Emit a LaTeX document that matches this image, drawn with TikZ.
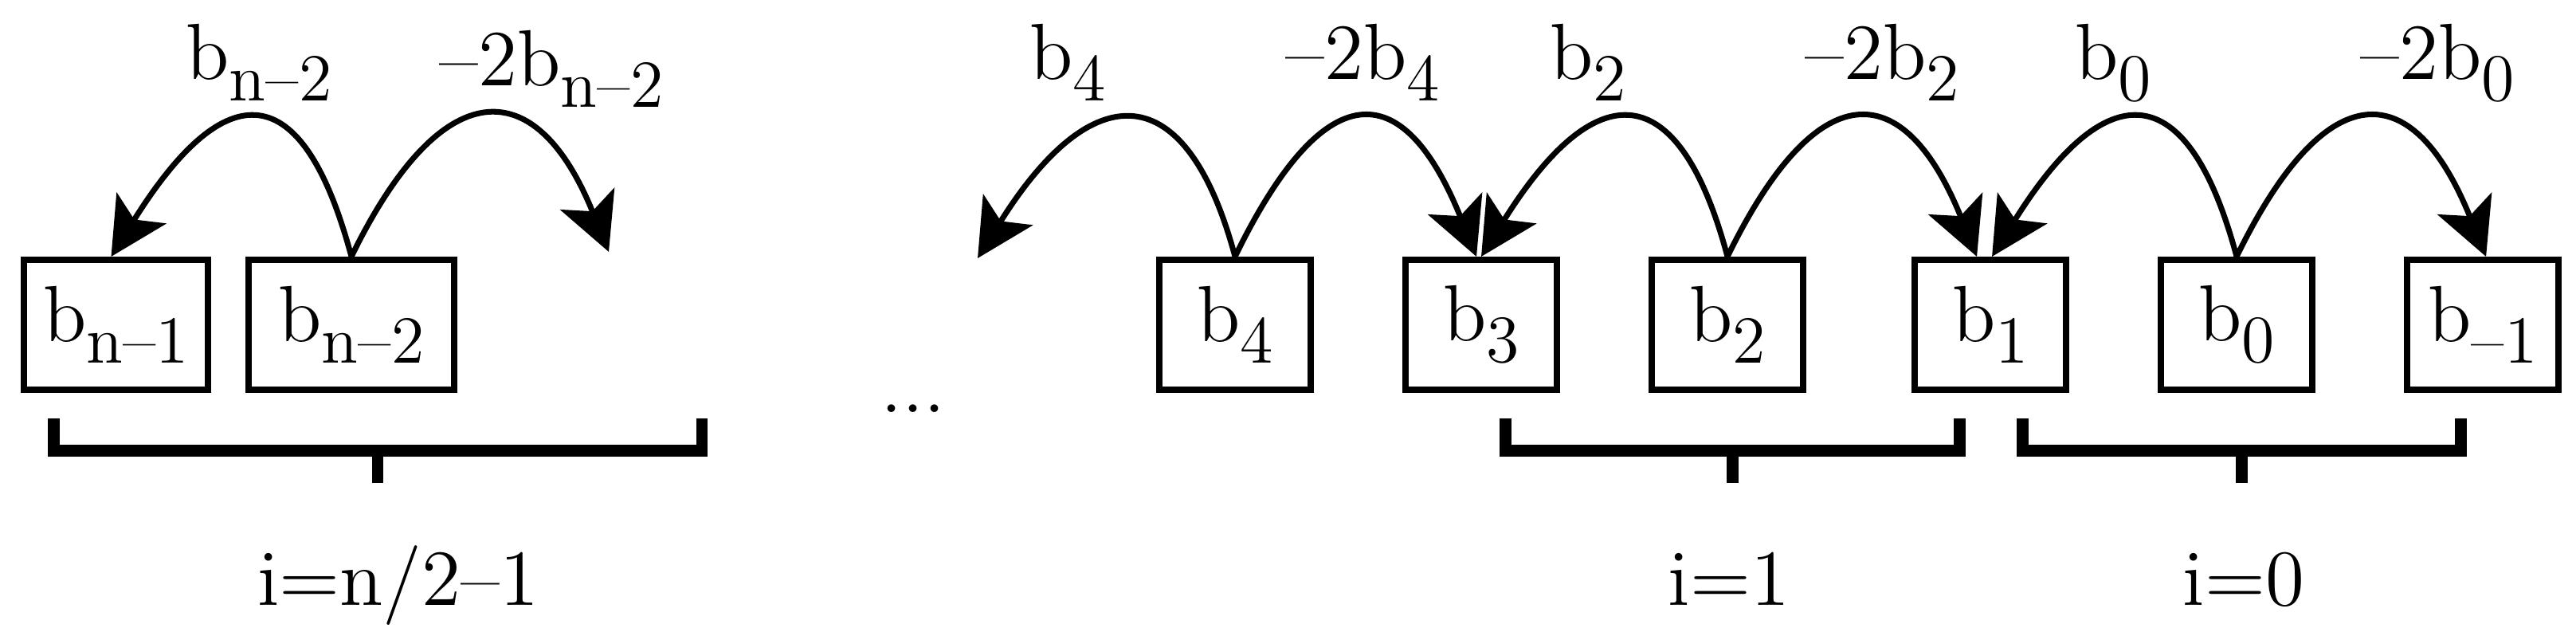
\documentclass[tikz,border=0pt]{standalone}
\usepackage{tikz}
\usetikzlibrary{positioning, arrows.meta}
\newcommand{\bsub}[1]{b\raisebox{-3.8pt}{\fontsize{12}{12}\selectfont #1}}
\tikzstyle{cell}=[draw, line width=1.14pt, inner sep=0pt, minimum width=0.95cm,
                  minimum height=0.815cm, font=\fontsize{14.2}{17}\selectfont]
\tikzstyle{lbl}=[anchor=base, inner sep=0pt, font=\fontsize{14.2}{17}\selectfont]
\tikzstyle{hop}=[-{Stealth[length=10.2pt, width=10.4pt, inset=2.4pt]}, line width=1pt]
\tikzstyle{brk}=[line width=2.13pt]

\begin{document}
\begin{tikzpicture}[node distance=0.555cm]
    \useasboundingbox (0,0) rectangle (16.165,-3.965);
    % high end of the word
    \node[cell, minimum width=1.155cm] (bn1) at (0.7275,-2.0375) {\bsub{n\textendash 1}};
    \node[cell, minimum width=1.29cm, right=0.215cm of bn1] (bn2) {\bsub{n\textendash 2}};
    \node[lbl] (dots) at (5.73,-2.59) {...};
    % low end of the word
    \node[cell] (b4) at (7.75,-2.0375) {\bsub{4}};
    \node[cell, right=of b4] (b3) {\bsub{3}};
    \node[cell, right=of b3] (b2) {\bsub{2}};
    \node[cell, right=0.66cm of b2] (b1) {\bsub{1}};
    \node[cell, right=of b1] (b0) {\bsub{0}};
    \node[cell, right=of b0] (bm1) {\bsub{\textendash 1}};
    \coordinate (rend) at (3.82,-1.58);
    \coordinate (lend) at (6.135,-1.62);
    % carries
    \draw[hop] (bn2.north) .. controls +(105:1.185cm) and +(58:1.35cm) .. ([xshift=-0.03cm]bn1.north);
    \draw[hop] (bn2.north) .. controls +(64:1.275cm) and +(112:1.235cm) .. (rend);
    \draw[hop] (b4.north) .. controls +(105:1.185cm) and +(58:1.35cm) .. (lend);
    \draw[hop] (b4.north) .. controls +(64:1.275cm) and +(112:1.235cm) .. ([xshift=-0.03cm]b3.north);
    \draw[hop] (b2.north) .. controls +(105:1.185cm) and +(58:1.35cm) .. (b3.north);
    \draw[hop] (b2.north) .. controls +(64:1.275cm) and +(112:1.235cm) .. ([xshift=-0.085cm]b1.north);
    \draw[hop] (b0.north) .. controls +(105:1.185cm) and +(58:1.35cm) .. ([xshift=0.01cm]b1.north);
    \draw[hop] (b0.north) .. controls +(64:1.275cm) and +(112:1.235cm) .. ([xshift=0.02cm]bm1.north);
    \node[lbl] (tn2) at (1.625,-0.5) {\bsub{n\textendash 2}};
    \node[lbl] (tmn2) at (3.46,-0.54) {\textendash 2\bsub{n\textendash 2}};
    \node[lbl] (t4) at (6.70,-0.5) {\bsub{4}};
    \node[lbl] (tm4) at (8.55,-0.5) {\textendash 2\bsub{4}};
    \node[lbl] (t2) at (9.965,-0.5) {\bsub{2}};
    \node[lbl] (tm2) at (11.81,-0.5) {\textendash 2\bsub{2}};
    \node[lbl] (t0) at (13.26,-0.5) {\bsub{0}};
    \node[lbl] (tm0) at (15.295,-0.5) {\textendash 2\bsub{0}};
    % iterations
    \draw[brk] (0.3375,-2.625) |- (4.405,-2.8275) -- (4.405,-2.625);
    \draw[brk] (2.37,-2.8275) -- (2.37,-3.03);
    \node[lbl] (itn) at (2.50,-3.8) {i=n/2\textendash 1};
    \draw[brk] (9.4475,-2.625) |- (12.295,-2.8275) -- (12.295,-2.625);
    \draw[brk] (10.87,-2.8275) -- (10.87,-3.03);
    \node[lbl] (it1) at (10.85,-3.8) {i=1};
    \draw[brk] (12.69,-2.625) |- (15.44,-2.8275) -- (15.44,-2.625);
    \draw[brk] (14.065,-2.8275) -- (14.065,-3.03);
    \node[lbl] (it0) at (14.08,-3.8) {i=0};
  \end{tikzpicture}
\end{document}
